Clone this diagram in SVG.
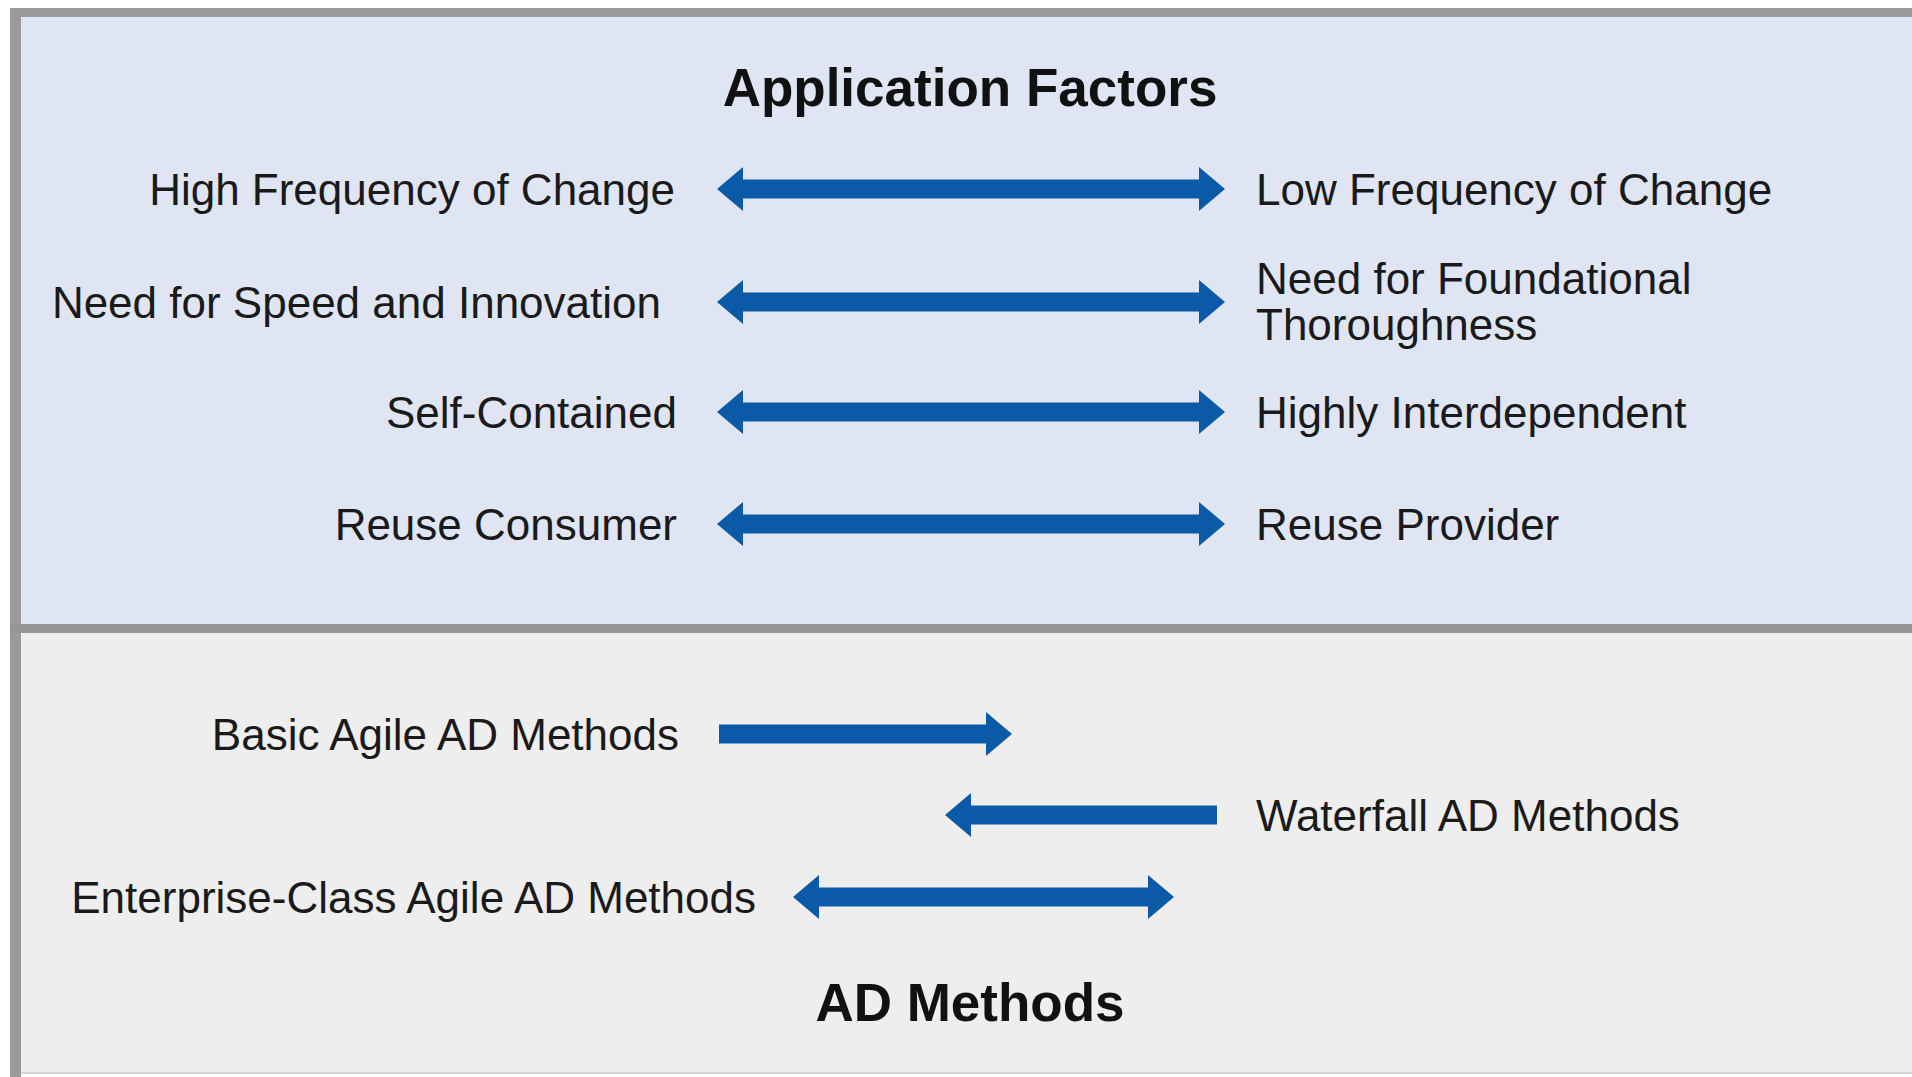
<svg xmlns="http://www.w3.org/2000/svg" width="1912" height="1077" viewBox="0 0 1912 1077">
<style>
.t{font-family:"Liberation Sans",Arial,sans-serif;font-size:44px;fill:#1a1a1a}
.h{font-family:"Liberation Sans",Arial,sans-serif;font-size:53px;font-weight:bold;fill:#111;text-anchor:middle}
.e{text-anchor:end}
.arr{fill:#0A5AA8}
</style>
<rect x="0" y="0" width="1912" height="1077" fill="#ffffff"/>
<g id="panel-top">
<rect x="10" y="8" width="1902" height="620" fill="#DFE5F3"/>
</g>
<g id="panel-bottom">
<rect x="10" y="628" width="1902" height="446" fill="#EEEEEE"/>
</g>
<g id="frame">
<rect x="10" y="8" width="1902" height="9" fill="#9A9A9A"/>
<rect x="10" y="8" width="11" height="1069" fill="#9A9A9A"/>
<rect x="10" y="624" width="1902" height="9" fill="#969696"/>
<rect x="21" y="1072" width="1891" height="2" fill="#D6D6D6"/>
</g>
<g id="title-application-factors"><text class="h" x="970" y="106">Application Factors</text></g>
<g id="title-ad-methods"><text class="h" x="970" y="1021">AD Methods</text></g>

<g id="high-frequency"><text class="t e" x="675" y="205">High Frequency of Change</text></g>
<g id="low-frequency"><text class="t" x="1256" y="205">Low Frequency of Change</text></g>
<g id="need-speed"><text class="t e" x="661" y="318">Need for Speed and Innovation</text></g>
<g id="need-foundational"><text class="t" x="1256" y="294">Need for Foundational</text><text class="t" x="1256" y="340">Thoroughness</text></g>
<g id="self-contained"><text class="t e" x="677" y="428">Self-Contained</text></g>
<g id="highly-interdependent"><text class="t" x="1256" y="428">Highly Interdependent</text></g>
<g id="reuse-consumer"><text class="t e" x="677" y="540">Reuse Consumer</text></g>
<g id="reuse-provider"><text class="t" x="1256" y="540">Reuse Provider</text></g>
<g id="basic-agile"><text class="t e" x="679" y="750">Basic Agile AD Methods</text></g>
<g id="waterfall"><text class="t" x="1256" y="831">Waterfall AD Methods</text></g>
<g id="enterprise-agile"><text class="t e" x="756" y="913">Enterprise-Class Agile AD Methods</text></g>

<g id="connectors">
<polygon class="arr" points="717,189 743,167 743,179.5 1199,179.5 1199,167 1225,189 1199,211 1199,198.5 743,198.5 743,211"/>
<polygon class="arr" points="717,302 743,280 743,292.5 1199,292.5 1199,280 1225,302 1199,324 1199,311.5 743,311.5 743,324"/>
<polygon class="arr" points="717,412 743,390 743,402.5 1199,402.5 1199,390 1225,412 1199,434 1199,421.5 743,421.5 743,434"/>
<polygon class="arr" points="717,524 743,502 743,514.5 1199,514.5 1199,502 1225,524 1199,546 1199,533.5 743,533.5 743,546"/>
<polygon class="arr" points="719,724.5 986,724.5 986,712 1012,734 986,756 986,743.5 719,743.5"/>
<polygon class="arr" points="945,815 971,793 971,805.5 1217,805.5 1217,824.5 971,824.5 971,837"/>
<polygon class="arr" points="793,897 819,875 819,887.5 1148,887.5 1148,875 1174,897 1148,919 1148,906.5 819,906.5 819,919"/>
</g>
</svg>
